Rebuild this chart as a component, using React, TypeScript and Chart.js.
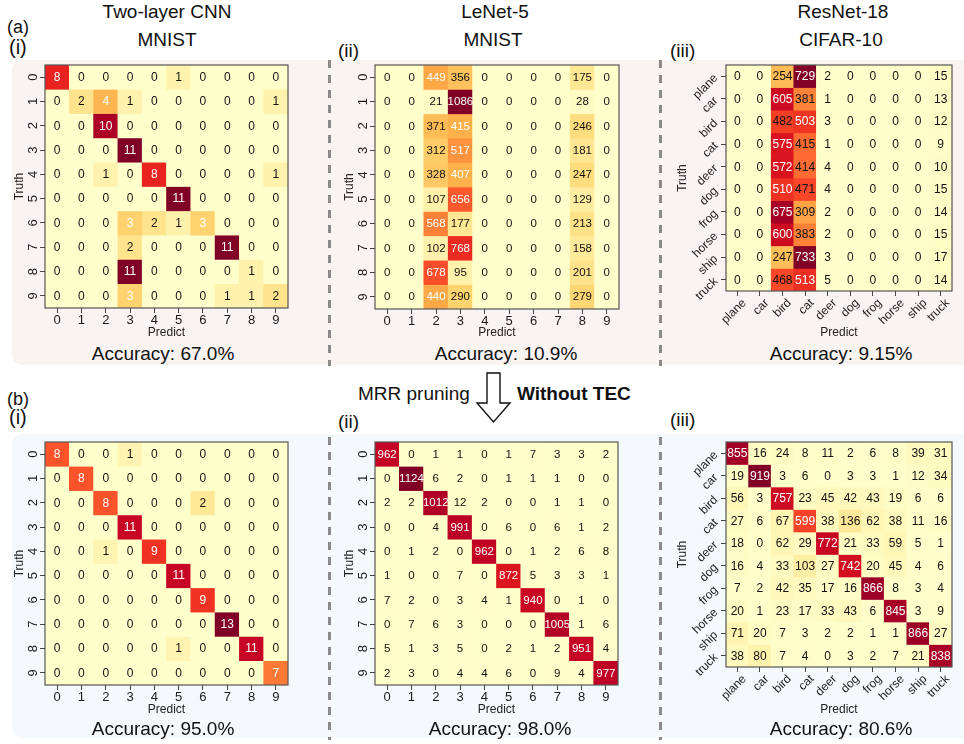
import React, { useEffect, useRef } from "react";
import { Chart, registerables } from "chart.js";

Chart.register(...registerables);

const FONT = "'Liberation Sans', Arial, Helvetica, sans-serif";
Chart.defaults.font.family = FONT;

// ---------- data ----------
const digitLabels = ["0", "1", "2", "3", "4", "5", "6", "7", "8", "9"];
const cifarLabels = ["plane", "car", "bird", "cat", "deer", "dog", "frog", "horse", "ship", "truck"];

const modelTitles = ["Two-layer CNN", "LeNet-5", "ResNet-18"];
const datasetTitles = ["MNIST", "MNIST", "CIFAR-10"];
const panelTags = ["(i)", "(ii)", "(iii)"];
const accuracyBefore = ["Accuracy: 67.0%", "Accuracy: 10.9%", "Accuracy: 9.15%"];
const accuracyAfter = ["Accuracy: 95.0%", "Accuracy: 98.0%", "Accuracy: 80.6%"];

const cnnBefore = [
  [8, 0, 0, 0, 0, 1, 0, 0, 0, 0],
  [0, 2, 4, 1, 0, 0, 0, 0, 0, 1],
  [0, 0, 10, 0, 0, 0, 0, 0, 0, 0],
  [0, 0, 0, 11, 0, 0, 0, 0, 0, 0],
  [0, 0, 1, 0, 8, 0, 0, 0, 0, 1],
  [0, 0, 0, 0, 0, 11, 0, 0, 0, 0],
  [0, 0, 0, 3, 2, 1, 3, 0, 0, 0],
  [0, 0, 0, 2, 0, 0, 0, 11, 0, 0],
  [0, 0, 0, 11, 0, 0, 0, 0, 1, 0],
  [0, 0, 0, 3, 0, 0, 0, 1, 1, 2],
];
const lenetBefore = [
  [0, 0, 449, 356, 0, 0, 0, 0, 175, 0],
  [0, 0, 21, 1086, 0, 0, 0, 0, 28, 0],
  [0, 0, 371, 415, 0, 0, 0, 0, 246, 0],
  [0, 0, 312, 517, 0, 0, 0, 0, 181, 0],
  [0, 0, 328, 407, 0, 0, 0, 0, 247, 0],
  [0, 0, 107, 656, 0, 0, 0, 0, 129, 0],
  [0, 0, 568, 177, 0, 0, 0, 0, 213, 0],
  [0, 0, 102, 768, 0, 0, 0, 0, 158, 0],
  [0, 0, 678, 95, 0, 0, 0, 0, 201, 0],
  [0, 0, 440, 290, 0, 0, 0, 0, 279, 0],
];
const resnetBefore = [
  [0, 0, 254, 729, 2, 0, 0, 0, 0, 15],
  [0, 0, 605, 381, 1, 0, 0, 0, 0, 13],
  [0, 0, 482, 503, 3, 0, 0, 0, 0, 12],
  [0, 0, 575, 415, 1, 0, 0, 0, 0, 9],
  [0, 0, 572, 414, 4, 0, 0, 0, 0, 10],
  [0, 0, 510, 471, 4, 0, 0, 0, 0, 15],
  [0, 0, 675, 309, 2, 0, 0, 0, 0, 14],
  [0, 0, 600, 383, 2, 0, 0, 0, 0, 15],
  [0, 0, 247, 733, 3, 0, 0, 0, 0, 17],
  [0, 0, 468, 513, 5, 0, 0, 0, 0, 14],
];
const cnnAfter = [
  [8, 0, 0, 1, 0, 0, 0, 0, 0, 0],
  [0, 8, 0, 0, 0, 0, 0, 0, 0, 0],
  [0, 0, 8, 0, 0, 0, 2, 0, 0, 0],
  [0, 0, 0, 11, 0, 0, 0, 0, 0, 0],
  [0, 0, 1, 0, 9, 0, 0, 0, 0, 0],
  [0, 0, 0, 0, 0, 11, 0, 0, 0, 0],
  [0, 0, 0, 0, 0, 0, 9, 0, 0, 0],
  [0, 0, 0, 0, 0, 0, 0, 13, 0, 0],
  [0, 0, 0, 0, 0, 1, 0, 0, 11, 0],
  [0, 0, 0, 0, 0, 0, 0, 0, 0, 7],
];
const lenetAfter = [
  [962, 0, 1, 1, 0, 1, 7, 3, 3, 2],
  [0, 1124, 6, 2, 0, 1, 1, 1, 0, 0],
  [2, 2, 1012, 12, 2, 0, 0, 1, 1, 0],
  [0, 0, 4, 991, 0, 6, 0, 6, 1, 2],
  [0, 1, 2, 0, 962, 0, 1, 2, 6, 8],
  [1, 0, 0, 7, 0, 872, 5, 3, 3, 1],
  [7, 2, 0, 3, 4, 1, 940, 0, 1, 0],
  [0, 7, 6, 3, 0, 0, 0, 1005, 1, 6],
  [5, 1, 3, 5, 0, 2, 1, 2, 951, 4],
  [2, 3, 0, 4, 4, 6, 0, 9, 4, 977],
];
const resnetAfter = [
  [855, 16, 24, 8, 11, 2, 6, 8, 39, 31],
  [19, 919, 3, 6, 0, 3, 3, 1, 12, 34],
  [56, 3, 757, 23, 45, 42, 43, 19, 6, 6],
  [27, 6, 67, 599, 38, 136, 62, 38, 11, 16],
  [18, 0, 62, 29, 772, 21, 33, 59, 5, 1],
  [16, 4, 33, 103, 27, 742, 20, 45, 4, 6],
  [7, 2, 42, 35, 17, 16, 866, 8, 3, 4],
  [20, 1, 23, 17, 33, 43, 6, 845, 3, 9],
  [71, 20, 7, 3, 2, 2, 1, 1, 866, 27],
  [38, 80, 7, 4, 0, 3, 2, 7, 21, 838],
];

// ---------- colour map (YlOrRd) ----------
const YLORRD = ["#ffffcc", "#ffeda0", "#fed976", "#feb24c", "#fd8d3c", "#fc4e2a", "#e31a1c", "#bd0026", "#800026"];
function hexRgb(h: string) {
  return [parseInt(h.slice(1, 3), 16), parseInt(h.slice(3, 5), 16), parseInt(h.slice(5, 7), 16)];
}
function cmap(t: number) {
  const c = Math.max(0, Math.min(1, t)) * (YLORRD.length - 1);
  const i = Math.min(Math.floor(c), YLORRD.length - 2);
  const f = c - i;
  const a = hexRgb(YLORRD[i]);
  const b = hexRgb(YLORRD[i + 1]);
  const m = a.map((v, k) => Math.round(v + (b[k] - v) * f));
  return `rgb(${m[0]},${m[1]},${m[2]})`;
}

type HeatProps = {
  values: number[][];
  labels: string[];
  cifar: boolean;
  canvasLeft: number;
  canvasTop: number;
  canvasBottom: number;
  plotLeft: number;
  plotRight: number;
  plotBottom: number;
  truthPad: number;
  cellFont: number;
  threshold: number;
};

function Heatmap(p: HeatProps) {
  const ref = useRef<HTMLCanvasElement>(null);
  const width = p.plotRight + 3 - p.canvasLeft;
  const height = p.canvasBottom - p.canvasTop;
  const yW = p.plotLeft - p.canvasLeft;
  const xH = p.canvasBottom - p.plotBottom;

  useEffect(() => {
    const rows = p.labels;
    const cols = p.labels;
    const values = p.values;
    const max = Math.max(...values.flat());
    const datasets = rows.map((r, ri) => ({
      label: r,
      data: cols.map(() => [ri - 0.5, ri + 0.5]),
      backgroundColor: values[ri].map((v) => cmap(v / max)),
      borderWidth: 0,
      grouped: false,
      barPercentage: 1,
      categoryPercentage: 1,
    }));

    const cellText = {
      id: "cellText",
      afterDatasetsDraw(chart: any) {
        const ctx = chart.ctx;
        ctx.save();
        ctx.font = `${p.cellFont}px ${FONT}`;
        ctx.textAlign = "center";
        ctx.textBaseline = "middle";
        chart.data.datasets.forEach((_: any, i: number) => {
          chart.getDatasetMeta(i).data.forEach((el: any, j: number) => {
            const v = values[i][j];
            ctx.fillStyle = v / max > p.threshold ? "#ffffff" : "#111111";
            ctx.fillText(String(v), el.x, (el.y + el.base) / 2 + 0.5);
          });
        });
        ctx.restore();
      },
    };
    const frame = {
      id: "frame",
      afterDraw(chart: any) {
        const { left, top, right, bottom } = chart.chartArea;
        const ctx = chart.ctx;
        ctx.save();
        ctx.strokeStyle = "#555555";
        ctx.lineWidth = 1.2;
        ctx.strokeRect(left, top, right - left, bottom - top);
        ctx.restore();
      },
    };

    const tickFont = { size: p.cifar ? 12 : 13, family: FONT };
    const chart = new Chart(ref.current as HTMLCanvasElement, {
      type: "bar",
      data: { labels: cols, datasets: datasets as any },
      options: {
        responsive: false,
        animation: false,
        devicePixelRatio: 1,
        events: [],
        layout: { padding: { top: 2, right: 3, left: 0, bottom: 0 } },
        plugins: { legend: { display: false }, tooltip: { enabled: false } },
        scales: {
          x: {
            type: "category",
            offset: true,
            afterFit: (s: any) => {
              s.height = xH;
              s.paddingLeft = 0;
              s.paddingRight = 0;
            },
            grid: { offset: false, drawOnChartArea: false, drawTicks: true, tickLength: 5, color: "#444444" },
            border: { display: false },
            ticks: {
              autoSkip: false,
              color: "#1a1a1a",
              font: tickFont,
              minRotation: p.cifar ? 45 : 0,
              maxRotation: p.cifar ? 45 : 0,
              padding: 0,
              labelOffset: p.cifar ? 7 : 0,
            },
            title: {
              display: true,
              text: "Predict",
              color: "#222222",
              font: { size: 12, family: FONT },
              padding: { top: 0, bottom: 2 },
            },
          },
          y: {
            type: "linear",
            min: -0.5,
            max: 9.5,
            reverse: true,
            afterBuildTicks: (s: any) => {
              s.ticks = rows.map((_, i) => ({ value: i }));
            },
            afterFit: (s: any) => {
              s.width = yW;
              s.paddingTop = 0;
              s.paddingBottom = 0;
            },
            grid: { drawOnChartArea: false, drawTicks: true, tickLength: 5, color: "#444444" },
            border: { display: false },
            ticks: {
              autoSkip: false,
              color: "#1a1a1a",
              font: tickFont,
              callback: (v: any) => rows[Math.round(Number(v))],
              minRotation: p.cifar ? 45 : 90,
              maxRotation: p.cifar ? 45 : 90,
              crossAlign: p.cifar ? "near" : "center",
              padding: p.cifar ? 5 : 3,
            },
            title: {
              display: true,
              text: "Truth",
              color: "#222222",
              font: { size: 12, family: FONT },
              padding: { top: p.truthPad, bottom: 0 },
            },
          },
        },
      } as any,
      plugins: [cellText, frame],
    });
    return () => chart.destroy();
  }, []);

  return (
    <canvas
      ref={ref}
      width={width}
      height={height}
      style={{ position: "absolute", left: p.canvasLeft, top: p.canvasTop, width, height }}
    />
  );
}

function Txt(props: { x: number; y: number; text: string; size: number; bold?: boolean; left?: boolean }) {
  return (
    <div
      style={{
        position: "absolute",
        left: props.x,
        top: props.y,
        transform: props.left ? "translate(0,-50%)" : "translate(-50%,-50%)",
        fontFamily: FONT,
        fontSize: props.size,
        lineHeight: 1,
        fontWeight: props.bold ? 700 : 400,
        whiteSpace: "nowrap",
        color: "#111111",
      }}
    >
      {props.text}
    </div>
  );
}

const topRow = { canvasTop: 63, canvasBottom: 342 };
const botRow = { canvasTop: 440, canvasBottom: 719 };

export default function App() {
  return (
    <div
      style={{
        position: "absolute",
        left: 0,
        top: 0,
        width: 964,
        height: 744,
        overflow: "hidden",
        background: "#ffffff",
        fontFamily: FONT,
      }}
    >
      {/* background bands */}
      <div style={{ position: "absolute", left: 12, top: 60, width: 970, height: 305, borderRadius: 10, background: "#f9f4f1" }} />
      <div style={{ position: "absolute", left: 12, top: 434, width: 970, height: 304, borderRadius: 10, background: "#f4f9fb" }} />

      {/* separators and arrow */}
      <svg width={964} height={744} style={{ position: "absolute", left: 0, top: 0 }}>
        {[329.5, 660.5].map((x) => (
          <g key={x}>
            <line x1={x} x2={x} y1={60} y2={366} stroke="#8a8a8a" strokeWidth={3} strokeDasharray="8 7" />
            <line x1={x} x2={x} y1={437} y2={740} stroke="#8a8a8a" strokeWidth={3} strokeDasharray="8 7" />
          </g>
        ))}
        <polygon
          points="487,373 500,373 500,403 510,403 493.5,422 477,403 487,403"
          fill="#ffffff"
          stroke="#111111"
          strokeWidth={1.4}
          strokeLinejoin="miter"
        />
      </svg>

      {/* titles */}
      <Txt x={167} y={11} text={modelTitles[0]} size={19} />
      <Txt x={167} y={38.5} text={datasetTitles[0]} size={19} />
      <Txt x={495} y={11} text={modelTitles[1]} size={19} />
      <Txt x={493} y={38.5} text={datasetTitles[1]} size={19} />
      <Txt x={843} y={11} text={modelTitles[2]} size={19} />
      <Txt x={841} y={38.5} text={datasetTitles[2]} size={19} />

      <Txt x={7} y={27} text="(a)" size={18} left />
      <Txt x={9} y={47} text={panelTags[0]} size={20} left />
      <Txt x={338} y={50} text={panelTags[1]} size={19} left />
      <Txt x={670} y={50} text={panelTags[2]} size={19} left />

      <Txt x={7} y={398.5} text="(b)" size={18} left />
      <Txt x={9} y={417} text={panelTags[0]} size={20} left />
      <Txt x={338} y={421} text={panelTags[1]} size={19} left />
      <Txt x={670} y={419} text={panelTags[2]} size={19} left />

      <Txt x={358} y={392.5} text="MRR pruning" size={19} left />
      <Txt x={517} y={392.5} text="Without TEC" size={19} bold left />

      {/* heatmaps */}
      <Heatmap values={cnnBefore} labels={digitLabels} cifar={false} {...topRow} canvasLeft={12} plotLeft={45} plotRight={288} plotBottom={308} truthPad={0} cellFont={12} threshold={0.25} />
      <Heatmap values={lenetBefore} labels={digitLabels} cifar={false} {...topRow} canvasLeft={335} plotLeft={375} plotRight={619} plotBottom={309} truthPad={7} cellFont={11.5} threshold={0.36} />
      <Heatmap values={resnetBefore} labels={cifarLabels} cifar={true} {...topRow} canvasLeft={665} plotLeft={726} plotRight={952} plotBottom={291} truthPad={10} cellFont={12} threshold={0.67} />
      <Heatmap values={cnnAfter} labels={digitLabels} cifar={false} {...botRow} canvasLeft={12} plotLeft={45} plotRight={288} plotBottom={685} truthPad={0} cellFont={12} threshold={0.36} />
      <Heatmap values={lenetAfter} labels={digitLabels} cifar={false} {...botRow} canvasLeft={335} plotLeft={375} plotRight={618} plotBottom={685} truthPad={7} cellFont={11.5} threshold={0.36} />
      <Heatmap values={resnetAfter} labels={cifarLabels} cifar={true} {...botRow} canvasLeft={665} plotLeft={726} plotRight={952} plotBottom={667} truthPad={10} cellFont={12} threshold={0.36} />

      {/* accuracy */}
      <Txt x={163} y={353} text={accuracyBefore[0]} size={19} />
      <Txt x={506} y={353} text={accuracyBefore[1]} size={19} />
      <Txt x={841} y={353} text={accuracyBefore[2]} size={19} />
      <Txt x={163} y={728} text={accuracyAfter[0]} size={19} />
      <Txt x={500} y={728} text={accuracyAfter[1]} size={19} />
      <Txt x={841} y={728} text={accuracyAfter[2]} size={19} />
    </div>
  );
}
